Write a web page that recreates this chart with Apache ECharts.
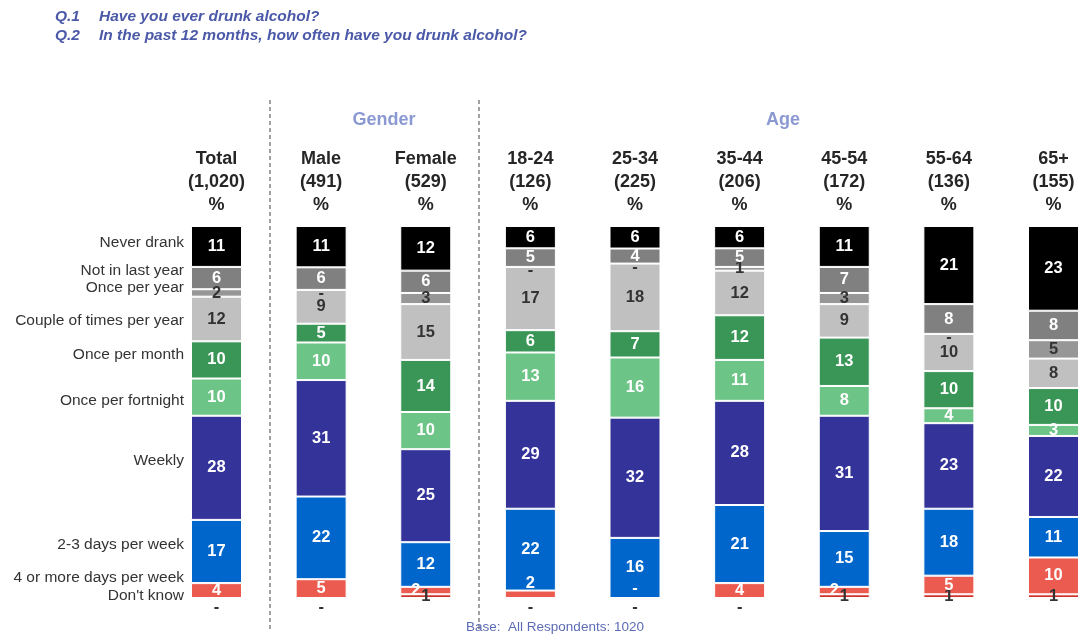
<!DOCTYPE html>
<html><head><meta charset="utf-8">
<script src="https://cdn.jsdelivr.net/npm/echarts@6/dist/echarts.min.js"></script>
<style>html,body{margin:0;padding:0;background:#fff}#c{width:1088px;height:637px}</style>
</head><body><div id="c"></div>
<script>
const categories = ['Total','Male','Female','18-24','25-34','35-44','45-54','55-64','65+'];
const bases = ['1,020','491','529','126','225','206','172','136','155'];
const rowNames = ['Never drank','Not in last year','Once per year','Couple of times per year','Once per month','Once per fortnight','Weekly','2-3 days per week','4 or more days per week',"Don't know"];

const neverDrank       = [11,11,12, 6, 6, 6,11,21,23];
const notInLastYear    = [ 6, 6, 6, 5, 4, 5, 7, 8, 8];
const oncePerYear      = [ 2, 0, 3, 0, 0, 1, 3, 0, 5];
const coupleTimes      = [12, 9,15,17,18,12, 9,10, 8];
const oncePerMonth     = [10, 5,14, 6, 7,12,13,10,10];
const oncePerFortnight = [10,10,10,13,16,11, 8, 4, 3];
const weekly           = [28,31,25,29,32,28,31,23,22];
const days2to3         = [17,22,12,22,16,21,15,18,11];
const days4plus        = [ 4, 5, 2, 2, 0, 4, 2, 5,10];
const dontKnow         = [ 0, 0, 1, 0, 0, 0, 1, 1, 1];

// stacking order bottom -> top
const stackData = [dontKnow, days4plus, days2to3, weekly, oncePerFortnight, oncePerMonth, coupleTimes, oncePerYear, notInLastYear, neverDrank];
const stackNames = rowNames.slice().reverse();
const colors = ['#d0302a','#ec5b50','#0066cc','#333399','#6cc487','#3a9657','#c0c0c0','#979797','#808080','#000000'];
const labelColors = ['#333','#fff','#fff','#fff','#fff','#fff','#333','#333','#fff','#fff'];

const totals = categories.map((_, i) => stackData.reduce((s, arr) => s + arr[i], 0));

const FONT = '"Liberation Sans", Arial, sans-serif';
const LSIZE = 16.5;

function zeroLabel(si) {
  const base = {show:true, formatter:'-', fontFamily:FONT, fontWeight:'bold', fontSize:LSIZE};
  if (si === 0) return Object.assign(base, {position:'bottom', distance:0, color:'#333'});
  if (si === 1) return Object.assign(base, {position:'inside', offset:[0,-10], color:'#fff'});
  return Object.assign(base, {position:'inside', offset:[0,4], color:'#333'});
}

const series = stackData.map((arr, si) => ({
  name: stackNames[si],
  type: 'bar',
  stack: 'all',
  barWidth: 51,
  itemStyle: {color: colors[si], borderColor:'#fff', borderWidth:1},
  label: {show:true, position:'inside', color: labelColors[si], fontFamily:FONT, fontWeight:'bold', fontSize:LSIZE,
          formatter: p => String(p.data.raw)},
  data: arr.map((v, i) => {
    const item = {value: v * 100 / totals[i], raw: v};
    if (v === 0) item.label = zeroLabel(si);
    else if (si === 1 && v <= 2) {
      // small "4+ days" segment: nudge its label clear of neighbours
      item.label = dontKnow[i] > 0 ? {offset:[-10, 0]} : {offset:[0, -11]};
    }
    return item;
  })
}));

const rowLabelY = [243, 271, 288, 321, 355, 401, 461, 545, 578, 596];
const QF = 'italic bold 15.5px ' + FONT;

const graphics = [
  {type:'text', left:55, top:9, style:{text:'Q.1', font:QF, fill:'#4b59a8'}},
  {type:'text', left:99, top:9, style:{text:'Have you ever drunk alcohol?', font:QF, fill:'#4b59a8'}},
  {type:'text', left:55, top:28, style:{text:'Q.2', font:QF, fill:'#4b59a8'}},
  {type:'text', left:99, top:28, style:{text:'In the past 12 months, how often have you drunk alcohol?', font:QF, fill:'#4b59a8'}},
  {type:'text', x:384, y:120, style:{text:'Gender', font:'bold 18px '+FONT, fill:'#8b99d2', align:'center', verticalAlign:'middle'}},
  {type:'text', x:783, y:120, style:{text:'Age', font:'bold 18px '+FONT, fill:'#8b99d2', align:'center', verticalAlign:'middle'}},
  {type:'line', shape:{x1:270, y1:100, x2:270, y2:632}, style:{stroke:'#444', lineWidth:1, lineDash:[4,3]}},
  {type:'line', shape:{x1:479, y1:100, x2:479, y2:632}, style:{stroke:'#444', lineWidth:1, lineDash:[4,3]}},
  {type:'text', x:555, y:627, style:{text:'Base:  All Respondents: 1020', font:'13.5px '+FONT, fill:'#5b6bb5', align:'center', verticalAlign:'middle'}}
].concat(rowNames.map((n, k) => ({
  type:'text', x:184, y:rowLabelY[k], style:{text:n, font:'15.5px '+FONT, fill:'#333', align:'right', verticalAlign:'middle'}
})));

const chart = echarts.init(document.getElementById('c'), null, {renderer:'canvas'});
chart.setOption({
  animation:false,
  backgroundColor:'#fff',
  grid:{left:216.5, right:34.5, top:226, bottom:39, containLabel:false},
  xAxis:{type:'category', data:categories, position:'top', boundaryGap:false,
    axisLine:{show:false}, axisTick:{show:false}, splitLine:{show:false},
    axisLabel:{interval:0, margin:9, color:'#262626', fontFamily:FONT, fontWeight:'bold', fontSize:18, lineHeight:23,
      formatter:(v, i) => v + '\n(' + bases[i] + ')\n%'}},
  yAxis:{type:'value', min:0, max:100, show:false},
  series: series,
  graphic: graphics
});
</script></body></html>
